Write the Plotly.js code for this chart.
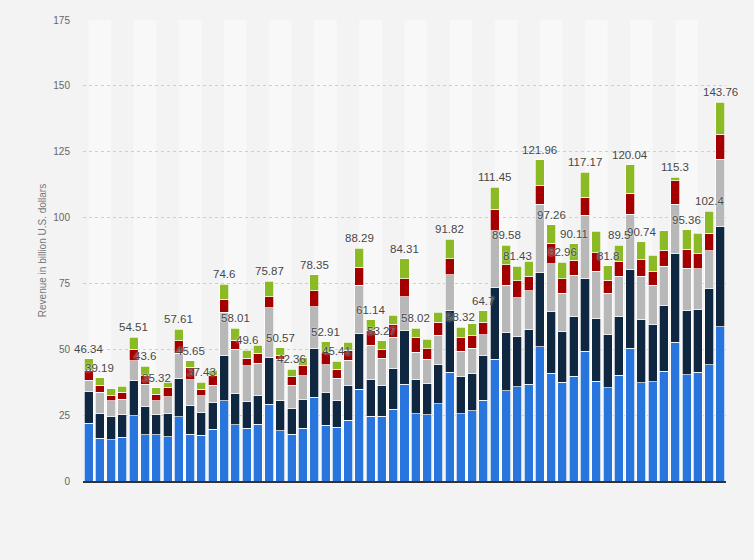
<!DOCTYPE html>
<html>
<head>
<meta charset="utf-8">
<script src="https://cdn.plot.ly/plotly-3.0.1.min.js"></script>
<style>
  html, body { margin: 0; padding: 0; background: #f3f3f3; }
  #chart { width: 754px; height: 560px; }
</style>
</head>
<body>
<div id="chart"></div>
<script>
// fiscal quarters Q1 '12 .. Q1 '26
const quarters = [];
for (let y = 12; y <= 26; y++) {
  for (let q = 1; q <= 4; q++) {
    if (y === 26 && q > 1) break;
    quarters.push("Q" + q + " '" + y);
  }
}

const americas = [22.0, 16.2, 15.6, 16.7, 24.8, 17.5, 17.5, 16.8, 24.4, 17.7, 17.3, 19.7,
  30.4, 21.3, 20.0, 21.6, 29.2, 19.0, 17.7, 20.0, 31.8, 21.1, 20.4, 23.0,
  34.8, 24.6, 24.6, 27.3, 36.8, 25.6, 25.06, 29.3, 41.37, 25.47, 26.7, 30.7,
  46.31, 34.3, 35.87, 36.82, 51.0, 40.88, 37.47, 39.8, 49.28, 37.78, 35.38, 40.11,
  50.43, 37.27, 37.68, 41.66, 52.65, 40.32, 41.2, 44.19, 58.53];
const europe = [11.9, 9.5, 9.0, 8.7, 13.5, 10.6, 7.9, 8.9, 14.6, 11.0, 8.8, 10.2,
  17.3, 12.0, 10.1, 10.7, 17.8, 11.6, 9.8, 10.9, 18.4, 12.4, 10.3, 13.1,
  21.3, 13.9, 11.6, 15.5, 20.3, 13.05, 11.93, 14.9, 23.27, 14.29, 14.0, 16.9,
  27.31, 22.26, 18.94, 20.79, 28.0, 23.29, 19.29, 22.8, 27.68, 23.95, 20.21, 22.46,
  30.0, 24.12, 21.88, 24.92, 33.86, 24.46, 24.01, 28.7, 38.15];
const greaterChina = [4.4, 8.0, 5.8, 5.7, 7.3, 8.7, 5.0, 6.2, 9.5, 9.8, 6.3, 6.5,
  16.3, 16.8, 13.6, 12.4, 18.8, 15.6, 8.9, 9.0, 16.0, 10.7, 8.4, 9.8,
  18.2, 13.0, 10.4, 11.7, 12.9, 10.2, 9.16, 11.1, 13.58, 9.46, 9.7, 7.9,
  21.31, 17.73, 14.76, 14.56, 26.0, 18.34, 14.6, 15.47, 23.91, 17.81, 15.76, 15.08,
  20.82, 16.37, 14.73, 15.03, 18.51, 16.0, 15.37, 14.49, 25.53];
const japan = [3.8, 2.7, 1.9, 2.6, 4.4, 3.2, 2.6, 3.5, 4.8, 4.7, 2.5, 3.5,
  5.0, 3.4, 2.9, 3.8, 4.2, 1.6, 3.2, 3.8, 6.1, 4.5, 3.3, 3.8,
  6.8, 5.8, 3.2, 5.0, 6.8, 5.5, 4.08, 4.9, 6.22, 5.21, 4.8, 4.8,
  8.29, 7.74, 6.46, 5.48, 7.0, 7.7, 5.45, 5.7, 6.76, 7.18, 4.82, 5.51,
  8.0, 6.26, 5.1, 5.93, 8.99, 7.29, 5.78, 6.63, 9.41];
const restOfAsia = [4.24, 2.79, 2.72, 2.27, 4.51, 3.6, 2.32, 2.07, 4.31, 2.45, 2.53, 2.22,
  5.6, 4.51, 3.0, 3.0, 5.87, 2.77, 2.76, 3.15, 6.05, 4.21, 3.01, 2.88,
  7.19, 3.84, 3.47, 3.4, 7.51, 3.67, 3.58, 3.84, 7.38, 3.89, 4.49, 4.4,
  8.23, 7.55, 5.4, 5.71, 9.96, 7.05, 6.15, 6.34, 9.54, 8.12, 5.63, 6.34,
  10.79, 6.72, 6.39, 7.39, 1.29, 7.29, 7.68, 8.39, 12.14];

// total labels as printed on the chart ('' where none is shown)
const totalLabels = ["46.34", "39.19", "", "", "54.51", "43.6", "35.32", "", "57.61", "45.65", "37.43", "",
  "74.6", "58.01", "49.6", "", "75.87", "50.57", "42.36", "", "78.35", "52.91", "45.41", "",
  "88.29", "61.14", "53.27", "", "84.31", "58.02", "", "", "91.82", "58.32", "", "64.7",
  "111.45", "89.58", "81.43", "", "121.96", "97.26", "82.96", "90.11", "117.17", "", "81.8", "89.5",
  "120.04", "90.74", "", "", "115.3", "95.36", "", "102.4", "143.76"];

const seriesNames = ["Americas", "Europe", "Greater China", "Japan", "Rest of Asia Pacific"];
const seriesColors = ["#2876dd", "#0f2741", "#b8b8b8", "#a50000", "#8cba24"];
const seriesValues = [americas, europe, greaterChina, japan, restOfAsia];

const totals = quarters.map((q, i) => seriesValues.reduce((s, arr) => s + arr[i], 0));

const traces = seriesValues.map((vals, k) => ({
  type: "bar",
  name: seriesNames[k],
  x: quarters,
  y: vals,
  marker: { color: seriesColors[k], line: { color: "#ffffff", width: 0.7 } },
  hoverinfo: "name+y",
}));

// total labels above each stack
const annotations = [];
quarters.forEach((q, i) => {
  if (!totalLabels[i]) return;
  annotations.push({
    x: q, y: totals[i], xref: "x", yref: "y",
    text: totalLabels[i],
    showarrow: false,
    yanchor: "bottom",
    yshift: 2,
    font: { family: "Liberation Sans, Arial, sans-serif", size: 11.5, color: "#464646", shadow: "0 0 2px #ffffff" },
  });
});

// alternating light column bands, two quarters wide
const shapes = [];
for (let i = 0; i < quarters.length - 1; i += 4) {
  shapes.push({
    type: "rect", layer: "below", xref: "x", yref: "paper",
    x0: i, x1: Math.min(i + 2, quarters.length - 0.5), y0: 0, y1: 1,
    fillcolor: "#f8f8f8", line: { width: 0 },
  });
}

var layout = {
  width: 754,
  height: 560,
  margin: { t: 20, b: 79, l: 83, r: 28 },
  paper_bgcolor: "#f3f3f3",
  plot_bgcolor: "#f3f3f3",
  font: { family: "Liberation Sans, Arial, sans-serif", color: "#666666" },
  barmode: "stack",
  bargap: 0.2,
  showlegend: false,
  shapes: shapes,
  annotations: annotations,
  xaxis: {
    type: "category",
    range: [-0.5, quarters.length - 0.5],
    showticklabels: false,
    ticks: "",
    showgrid: false,
    showline: true,
    linecolor: "#333333",
    linewidth: 1.5,
    zeroline: false,
  },
  yaxis: {
    range: [0, 175],
    dtick: 25,
    tickfont: { size: 10, color: "#666666" },
    ticklabelstandoff: 12,
    showgrid: true,
    gridcolor: "#cfcfcf",
    griddash: "dot",
    gridwidth: 1,
    zeroline: false,
    showline: false,
    automargin: false,
    title: { text: "Revenue in billion U.S. dollars", font: { size: 10, color: "#777777" }, standoff: 4 },
  },
};

var config = { responsive: false, displayModeBar: false };

Plotly.newPlot("chart", traces, layout, config);
</script>
</body>
</html>
